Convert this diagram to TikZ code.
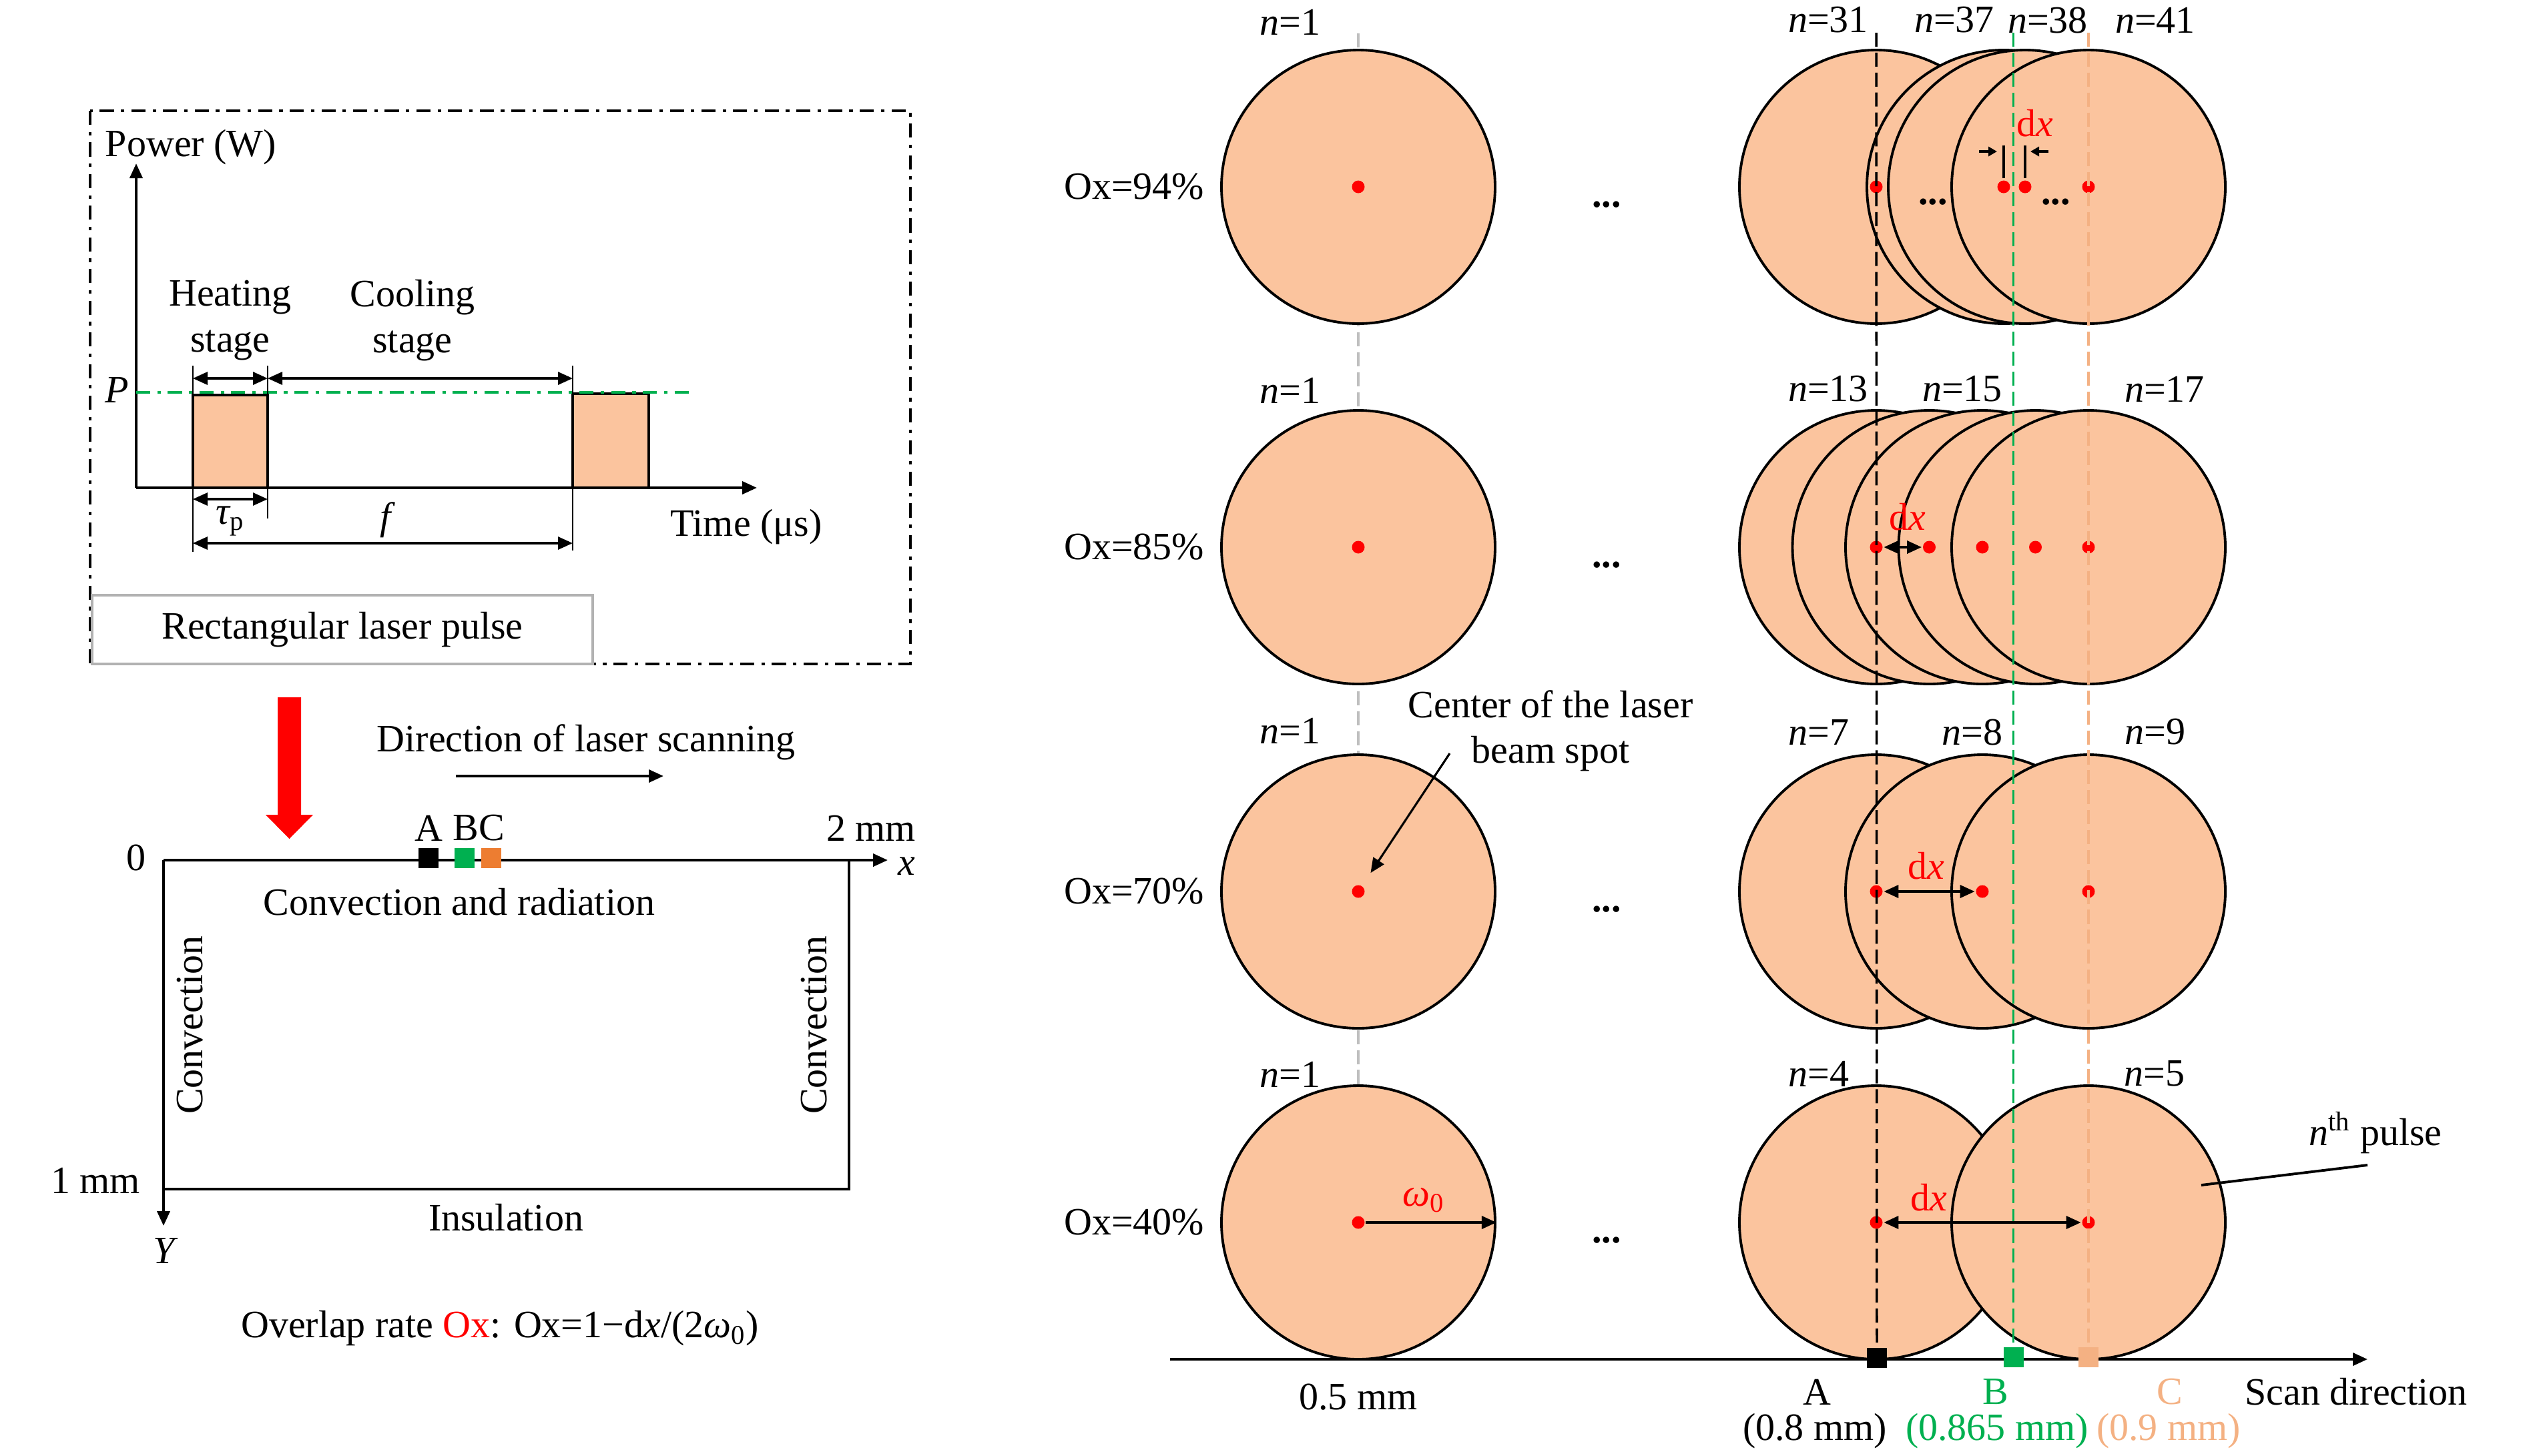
\documentclass[tikz,border=0pt]{standalone}
\usepackage{fontspec}
\setmainfont{Liberation Serif}
\usetikzlibrary{positioning,arrows.meta}

\definecolor{spotfill}{RGB}{251,196,158}
\definecolor{ptgreen}{RGB}{0,176,80}
\definecolor{ptorange}{RGB}{237,125,49}
\definecolor{ptlight}{RGB}{244,177,131}

\tikzset{
  spot/.style={circle, draw, fill=spotfill, minimum size=4.1cm, inner sep=0pt},
  reddot/.style={circle, fill=red, minimum size=0.19cm, inner sep=0pt},
  dashdot/.style={dash pattern=on 6pt off 3pt on 1.5pt off 3pt},
  longdash/.style={dash pattern=on 6pt off 2.5pt},
  mark box/.style={minimum width=0.3cm, minimum height=0.3cm, inner sep=0pt},
  small tip/.style={-{Triangle[length=0.13cm,width=0.14cm]}},
}

\begin{document}
\begin{tikzpicture}[line width=1.1pt, >={Triangle[length=0.22cm,width=0.19cm]},
  every node/.append style={font=\fontsize{16.5}{19.5}\selectfont, inner sep=0pt}]
  \useasboundingbox (0,0) rectangle (37.8,-21.81);

  % ---- pulse plot
  \draw[line width=0.9pt, dashdot] (1.35,-1.66) rectangle (13.64,-9.95);
  \node[draw=black!30, line width=1pt, minimum width=7.5cm, minimum height=1.03cm] (legend) at (5.13,-9.435) {Rectangular laser pulse};

  \coordinate (o) at (2.04,-7.31);
  \draw[->] (o) -- (2.04,-2.45);
  \draw[->] (o) -- (11.34,-7.31);
  \node (power) at (2.86,-2.21) {Power (W)};
  \node (time) at (11.18,-7.90) {Time (μs)};

  \draw[fill=spotfill] (2.89,-7.31) rectangle (4.01,-5.92);
  \draw[fill=spotfill] (8.58,-7.31) rectangle (9.72,-5.90);
  \draw[ptgreen, line width=1pt, dashdot] (2.04,-5.88) -- (10.32,-5.88);
  \node (plevel) at (1.75,-5.84) {\itshape P};

  \draw[line width=0.8pt] (2.89,-5.48) -- (2.89,-8.27) (4.01,-5.48) -- (4.01,-7.77) (8.58,-5.48) -- (8.58,-8.25);
  \draw[<->, line width=0.9pt] (2.89,-5.67) -- (4.01,-5.67);
  \draw[<->, line width=0.9pt] (4.01,-5.67) -- (8.58,-5.67);
  \draw[<->, line width=0.9pt] (2.89,-7.48) -- (4.01,-7.48);
  \draw[<->, line width=0.9pt] (2.89,-8.14) -- (8.58,-8.14);
  \node[align=center] (heat) at (3.45,-4.80) {Heating\\stage};
  \node[align=center] (cool) at (6.18,-4.80) {Cooling\\stage};
  \node (taup) at (3.45,-7.81) {\itshape τ\textsubscript{\upshape p}};
  \node (period) at (5.78,-7.79) {\itshape f};

  % ---- laser arrow and domain
  \fill[red] (4.16,-10.45) -- (4.51,-10.45) -- (4.51,-12.21) -- (4.69,-12.21) -- (4.335,-12.57) -- (3.98,-12.21) -- (4.16,-12.21) -- cycle;
  \node (scanlbl) at (8.78,-11.12) {Direction of laser scanning};
  \draw[->] (6.83,-11.63) -- (9.94,-11.63);

  \draw (2.45,-12.89) -- (12.72,-12.89) -- (12.72,-17.82) -- (2.45,-17.82);
  \draw[->] (12.72,-12.89) -- (13.30,-12.89);
  \draw[->] (2.45,-12.89) -- (2.45,-18.37);
  \node (xlbl) at (13.58,-12.98) {\itshape x};
  \node (ylbl) at (2.46,-18.74) {\itshape Y};
  \node (twomm) at (13.05,-12.41) {2 mm};
  \node (zero) at (2.04,-12.85) {0};
  \node[anchor=east] (onemm) at (2.12,-17.69) {1 mm};

  \node[mark box, fill=black] (pa) at (6.42,-12.86) {};
  \node[mark box, fill=ptgreen] (pb) at (6.96,-12.86) {};
  \node[mark box, fill=ptorange] (pc) at (7.36,-12.86) {};
  \node (lbla) at (6.42,-12.41) {A};
  \node (lblbc) at (7.17,-12.41) {BC};

  \node (top) at (6.88,-13.52) {Convection and radiation};
  \node[rotate=90] (left) at (2.85,-15.36) {Convection};
  \node[rotate=90] (right) at (12.20,-15.36) {Convection};
  \node (bottom) at (7.58,-18.25) {Insulation};
  \node (overlap) at (7.49,-19.91) {Overlap rate \textcolor{red}{Ox}: Ox=1−d\textit{x}/(2\textit{ω}\textsubscript{0})};

  % ---- laser spots, first pulse
  \draw[black!25, longdash, line width=1pt] (20.35,-0.50) -- (20.35,-16.27);
  \foreach \r/\y/\ox in {a/-2.80/94,b/-8.20/85,c/-13.36/70,d/-18.32/40} {
    \node[spot] (first\r) at (20.35,\y) {};
    \node[reddot] (fdot\r) at (20.35,\y) {};
    \node[anchor=east] (ox\r) at (18.06,\y) {Ox=\ox\%};
    \node (gap\r) at (24.07,\y-0.27) {\bfseries ...};
  }
  \node (na0) at (19.33,-0.33) {\textit{n}=1};
  \node (nb0) at (19.33,-5.85) {\textit{n}=1};
  \node (nc0) at (19.33,-10.95) {\textit{n}=1};
  \node (nd0) at (19.33,-16.10) {\textit{n}=1};

  % ---- overlapping pulses
  \foreach \k/\x in {1/28.11,2/30.02,3/30.34,4/31.29} \node[spot] (sa\k) at (\x,-2.80) {};
  \foreach \k/\x in {1/28.11,2/30.02,3/30.34,4/31.29} \node[reddot] (da\k) at (\x,-2.80) {};
  \foreach \k in {0,...,4} \node[spot] (sb\k) at ({28.11+0.795*\k},-8.20) {};
  \foreach \k in {0,...,4} \node[reddot] (db\k) at ({28.11+0.795*\k},-8.20) {};
  \foreach \k in {0,1,2} \node[spot] (sc\k) at ({28.11+1.59*\k},-13.36) {};
  \foreach \k in {0,1,2} \node[reddot] (dc\k) at ({28.11+1.59*\k},-13.36) {};
  \foreach \k in {0,1} \node[spot] (sd\k) at ({28.11+3.18*\k},-18.32) {};
  \foreach \k in {0,1} \node[reddot] (dd\k) at ({28.11+3.18*\k},-18.32) {};
  \node (moreal) at (28.96,-3.03) {\bfseries ...};
  \node (morear) at (30.80,-3.03) {\bfseries ...};

  \node (na1) at (27.39,-0.30) {\textit{n}=31};
  \node (na2) at (29.28,-0.30) {\textit{n}=37};
  \node (na3) at (30.68,-0.30) {\textit{n}=38};
  \node (na4) at (32.29,-0.30) {\textit{n}=41};
  \node (nb1) at (27.39,-5.83) {\textit{n}=13};
  \node (nb2) at (29.40,-5.83) {\textit{n}=15};
  \node (nb3) at (32.43,-5.83) {\textit{n}=17};
  \node (nc1) at (27.25,-10.97) {\textit{n}=7};
  \node (nc2) at (29.55,-10.97) {\textit{n}=8};
  \node (nc3) at (32.29,-10.97) {\textit{n}=9};
  \node (nd1) at (27.25,-16.09) {\textit{n}=4};
  \node (nd2) at (32.28,-16.09) {\textit{n}=5};

  % scan axis and monitoring points
  \coordinate (scanstart) at (17.53,-20.37);
  \coordinate (scanend) at (35.47,-20.37);
  \draw[->] (scanstart) -- (scanend);
  \node[mark box, fill=black] (sqa) at (28.12,-20.35) {};
  \node[mark box, fill=ptgreen] (sqb) at (30.165,-20.34) {};
  \node[mark box, fill=ptlight] (sqc) at (31.29,-20.34) {};
  \draw[longdash, line width=1pt] (28.11,-0.49) -- (sqa);
  \draw[ptgreen, longdash, line width=1pt] (30.165,-0.49) -- (sqb);
  \draw[ptlight, longdash, line width=1pt] (31.29,-0.49) -- (sqc);

  \node (ptA) at (27.22,-20.86) {A};
  \node (posA) at (27.19,-21.45) {(0.8 mm)};
  \node[text=ptgreen] (ptB) at (29.90,-20.86) {B};
  \node[text=ptgreen] (posB) at (29.92,-21.45) {(0.865 mm)};
  \node[text=ptlight] (ptC) at (32.51,-20.86) {C};
  \node[text=ptlight] (posC) at (32.49,-21.45) {(0.9 mm)};
  \node (scandir) at (35.30,-20.86) {Scan direction};
  \node (firstpos) at (20.35,-20.94) {0.5 mm};

  % dx marks
  \draw[line width=0.9pt] ([yshift=0.13cm]da2.center) -- ([yshift=0.62cm]da2.center);
  \draw[line width=0.9pt] ([yshift=0.13cm]da3.center) -- ([yshift=0.62cm]da3.center);
  \draw[small tip, line width=0.9pt] ([xshift=-0.37cm,yshift=0.53cm]da2.center) -- ([xshift=-0.1cm,yshift=0.53cm]da2.center);
  \draw[small tip, line width=0.9pt] ([xshift=0.35cm,yshift=0.53cm]da3.center) -- ([xshift=0.08cm,yshift=0.53cm]da3.center);
  \node[text=red] (dxa) at (30.49,-1.85) {d\textit{x}};
  \draw[<->] (db0) -- (db1);
  \node[text=red] (dxb) at (28.58,-7.75) {d\textit{x}};
  \draw[<->] (dc0) -- (dc1);
  \node[text=red] (dxc) at (28.86,-12.98) {d\textit{x}};
  \draw[<->] (dd0) -- (dd1);
  \node[text=red] (dxd) at (28.90,-17.95) {d\textit{x}};

  \draw[->] (fdotd) -- (firstd.east);
  \node[text=red] (waist) at (21.33,-17.99) {\textit{ω}\textsubscript{0}};

  \node[align=center] (centre) at (23.23,-10.95) {Center of the laser\\beam spot};
  \coordinate (centrefrom) at (21.72,-11.29);
  \draw[->, line width=0.9pt, shorten >=0.22cm] (centrefrom) -- (fdotc);

  \node (nth) at (35.59,-16.98) {\textit{n}\textsuperscript{th} pulse};
  \coordinate (nthfrom) at (35.47,-17.46);
  \coordinate (nthto) at (32.98,-17.76);
  \draw (nthfrom) -- (nthto);
\end{tikzpicture}
\end{document}
